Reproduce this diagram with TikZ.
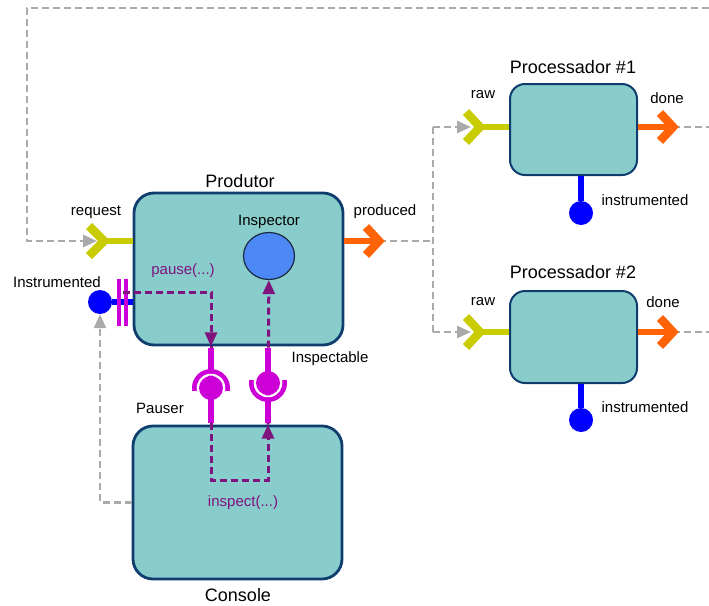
\documentclass[tikz,border=0pt]{standalone}
\usepackage{fontspec}
\setmainfont{Liberation Sans}
\usetikzlibrary{arrows.meta,shapes.geometric}

\definecolor{boxfill}{HTML}{89CCCC}
\definecolor{boxline}{HTML}{0F3D6E}
\definecolor{forkyellow}{HTML}{C8CC00}
\definecolor{outorange}{HTML}{FF6308}
\definecolor{instblue}{HTML}{0000FF}
\definecolor{sockmag}{HTML}{CC00D6}
\definecolor{callpurple}{HTML}{7F147F}
\definecolor{wiregray}{HTML}{AAAAAA}
\definecolor{inspblue}{HTML}{4C89F5}
\definecolor{inspline}{HTML}{1C2B44}

\begin{document}
\begin{tikzpicture}[x=1pt,y=-1pt,
  comp/.style={rectangle,draw=boxline,fill=boxfill,line width=2.8pt,rounded corners=20pt,inner sep=0pt},
  smallcomp/.style={comp,line width=2pt,rounded corners=15pt},
  title/.style={font=\fontsize{18}{21}\selectfont},
  lbl/.style={font=\fontsize{15}{18}\selectfont},
  calllbl/.style={lbl,text=callpurple},
  wire/.style={wiregray,line width=2.5pt,dash pattern=on 7pt off 4pt},
  wirearrow/.style={wire,-{Triangle[length=14pt,width=12pt]}},
  call/.style={callpurple,line width=3pt,dash pattern=on 7pt off 4pt},
  callarrow/.style={call,-{Triangle[length=14pt,width=12pt]}},
  inport/.style={forkyellow,line width=8.5pt,line join=miter},
  instem/.style={forkyellow,line width=6pt},
  outport/.style={outorange,line width=8.5pt,line join=miter},
  outstem/.style={outorange,line width=6pt},
  ball/.style={circle,fill=instblue,minimum size=24pt,inner sep=0pt},
  instline/.style={instblue,line width=6pt},
  link/.style={sockmag,line width=6.5pt,shorten <=1.4pt,shorten >=1.4pt},
  socket/.style={sockmag,line width=5pt},
  gap/.style={white,line width=1.8pt},
  bar/.style={sockmag,line width=4pt}
]
  \useasboundingbox (0,0) rectangle (709,605);

  % components
  \node[comp,minimum width=209pt,minimum height=152pt] (prod) at (238.5,269) {};
  \node[comp,minimum width=209pt,minimum height=153pt] (cons) at (237.5,502.5) {};
  \node[smallcomp,minimum width=127pt,minimum height=91pt] (proc1) at (573.5,129.5) {};
  \node[smallcomp,minimum width=127pt,minimum height=92pt] (proc2) at (573.5,337) {};
  \node[ellipse,draw=inspline,fill=inspblue,line width=1.2pt,minimum width=51pt,minimum height=47pt] (insp) at (269,256) {};

  \node[ball] (pinst) at (100,302) {};
  \node[ball] (inst1) at (581,213) {};
  \node[ball] (inst2) at (581,420) {};

  % port points
  \coordinate (edgetop) at (709,8);
  \coordinate (cornertl) at (27,8);
  \coordinate (reqtip) at (97,241);
  \coordinate (reqv) at (104,241);
  \coordinate (prodv) at (379,241);
  \coordinate (split) at (433,241);
  \coordinate (raw1tip) at (471,127);
  \coordinate (raw1v) at (480,127);
  \coordinate (raw2tip) at (471,332);
  \coordinate (raw2v) at (480,332);
  \coordinate (done1v) at (673,127);
  \coordinate (done2v) at (673,332);
  \coordinate (edge1) at (709,127);
  \coordinate (edge2) at (709,332);
  \coordinate (barsout) at (123,292);
  \coordinate (pausec) at (211,388);
  \coordinate (inspc) at (268,383);
  \coordinate (turnl) at (211,480);
  \coordinate (turnr) at (268,480);

  % gray wires
  \draw[wirearrow] (edgetop) -- (cornertl) -- (cornertl |- reqtip) -- (reqtip);
  \draw[wire] (prodv) -- (split);
  \draw[wire] (split |- raw1tip) -- (split |- raw2tip);
  \draw[wirearrow] (split |- raw1tip) -- (raw1tip);
  \draw[wirearrow] (split |- raw2tip) -- (raw2tip);
  \draw[wire] (done1v) -- (edge1);
  \draw[wire] (done2v) -- (edge2);
  \draw[wirearrow] (cons.west) -- (cons.west -| pinst) -- (pinst);

  % ports
  \draw[instem] (reqv) -- (reqv -| prod.west);
  \draw[inport] (89,226) -- (reqv) -- (89,256);
  \draw[outstem] (prodv -| prod.east) -- (prodv);
  \draw[outport] (366,227) -- (prodv) -- (366,255);

  \draw[instem] (raw1v) -- (raw1v -| proc1.west);
  \draw[inport] (466,112) -- (raw1v) -- (466,142);
  \draw[outstem] (done1v -| proc1.east) -- (done1v);
  \draw[outport] (660,113) -- (done1v) -- (660,141);

  \draw[instem] (raw2v) -- (raw2v -| proc2.west);
  \draw[inport] (466,317) -- (raw2v) -- (466,347);
  \draw[outstem] (done2v -| proc2.east) -- (done2v);
  \draw[outport] (660,318) -- (done2v) -- (660,346);

  \draw[instline] (pinst) -- (pinst -| prod.west);
  \draw[instline] (proc1.south -| inst1) -- (inst1);
  \draw[instline] (proc2.south -| inst2) -- (inst2);
  \draw[bar] (119,279) -- (119,326);
  \draw[bar] (126,279) -- (126,326);

  % calls
  \draw[callarrow] (barsout) -- (barsout -| pausec) -- (prod.south -| pausec);
  \draw[callarrow] (prod.south -| pausec) -- (turnl) -- (turnr) -- (cons.north -| inspc);
  \draw[callarrow] (cons.north -| inspc) -- (insp);

  % pauser / inspectable
  \draw[link] (prod.south -| pausec) -- (cons.north -| pausec);
  \draw[link] (prod.south -| inspc) -- (cons.north -| inspc);
  \draw[socket] (pausec) ++(170:16.5) arc[start angle=170,end angle=370,radius=16.5];
  \draw[gap] (pausec) ++(170:13.4) arc[start angle=170,end angle=370,radius=13.4];
  \fill[sockmag] (pausec) circle[radius=12];
  \draw[socket] (inspc) ++(-10:16.5) arc[start angle=-10,end angle=190,radius=16.5];
  \draw[gap] (inspc) ++(-10:13.4) arc[start angle=-10,end angle=190,radius=13.4];
  \fill[sockmag] (inspc) circle[radius=12];

  % labels
  \node[title] (prodname) at (240,181) {Produtor};
  \node[title] (consname) at (238,595) {Console};
  \node[title] (proc1name) at (573,67) {Processador \#1};
  \node[title] (proc2name) at (573,272) {Processador \#2};
  \node[lbl] (reqname) at (96,212) {request};
  \node[lbl] (pinstname) at (57,282) {Instrumented};
  \node[lbl] (inspname) at (269,222) {Inspector};
  \node[lbl] (prodoutname) at (385,212) {produced};
  \node[lbl] (inspblname) at (330,359) {Inspectable};
  \node[lbl] (pausername) at (160,408) {Pauser};
  \node[calllbl] (pausecall) at (183,271) {pause(...)};
  \node[calllbl] (inspcall) at (243,503) {inspect(...)};
  \node[lbl] (raw1name) at (483,95) {raw};
  \node[lbl] (done1name) at (667,98) {done};
  \node[lbl] (inst1name) at (645,200) {instrumented};
  \node[lbl] (raw2name) at (483,302) {raw};
  \node[lbl] (done2name) at (663,302) {done};
  \node[lbl] (inst2name) at (645,407) {instrumented};
\end{tikzpicture}
\end{document}
